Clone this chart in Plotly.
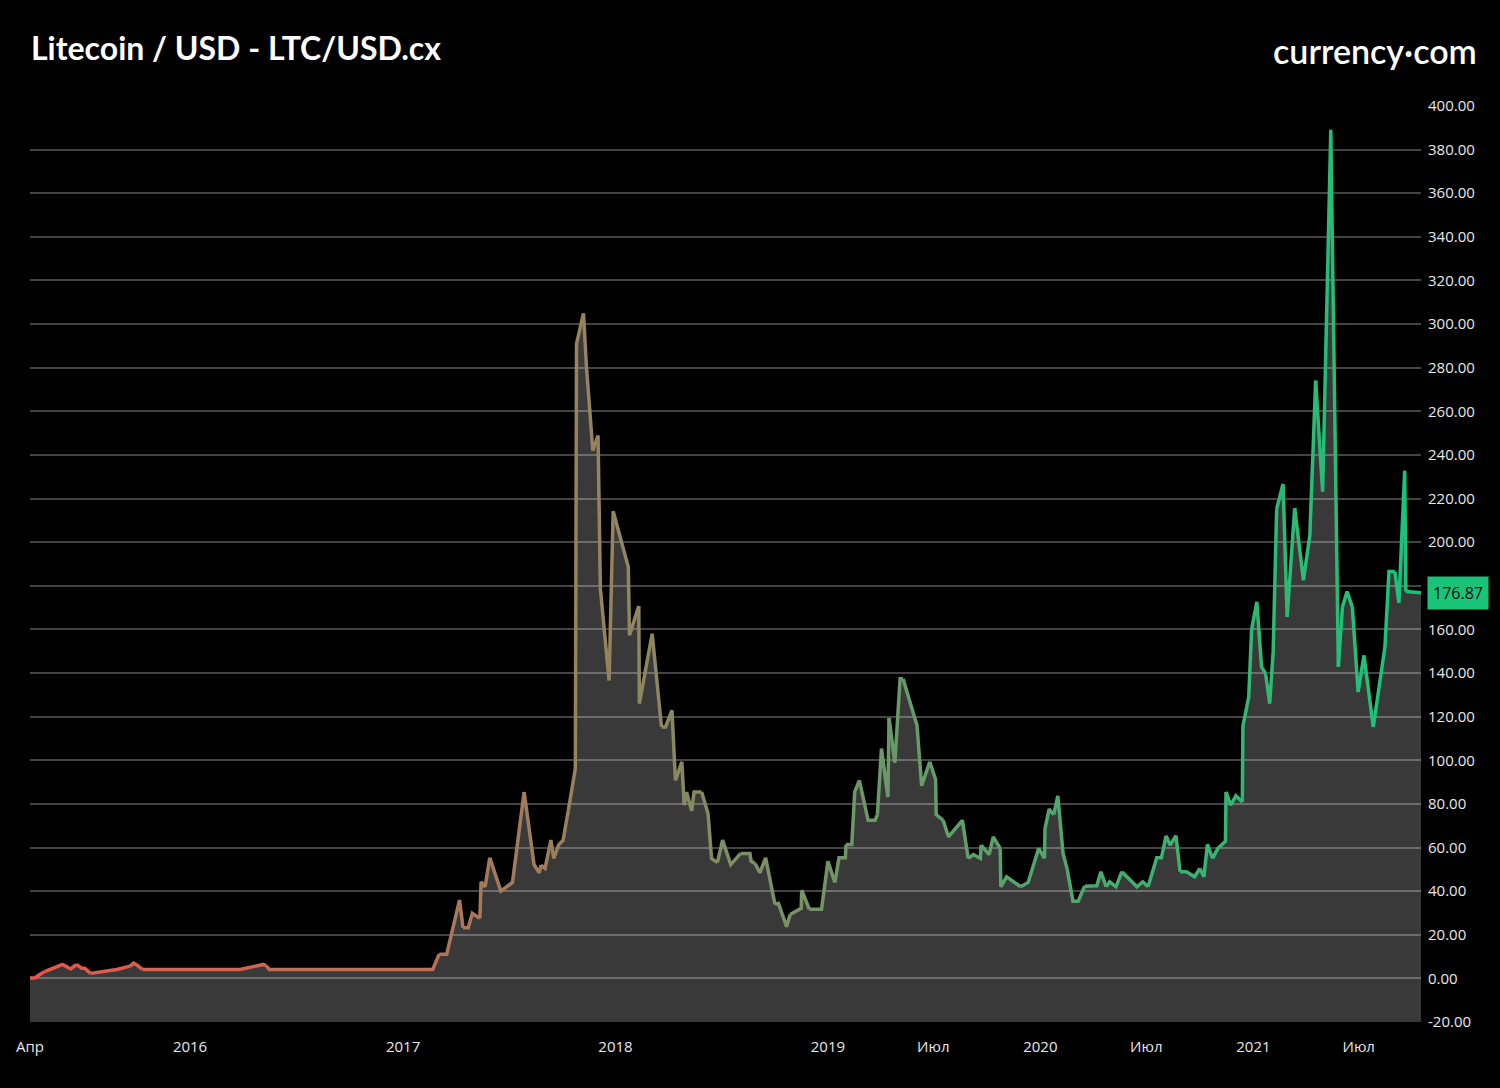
import plotly.graph_objects as go
import pandas as pd

# ---- data ----
dates = [
    "2015-04-01", "2015-04-09", "2015-04-18", "2015-04-26", "2015-05-27", "2015-06-10", "2015-06-20",
    "2015-06-29", "2015-07-04", "2015-07-14", "2015-07-24", "2015-08-28", "2015-09-20", "2015-09-26",
    "2015-10-02", "2015-10-11",
    "2016-03-27", "2016-05-06", "2016-05-11", "2016-05-16",
    "2017-02-21", "2017-03-04", "2017-03-17", "2017-04-08", "2017-04-14", "2017-04-23", "2017-04-30",
    "2017-05-13", "2017-05-15", "2017-05-22", "2017-05-30", "2017-06-18", "2017-07-08", "2017-07-28",
    "2017-08-14", "2017-08-23", "2017-08-26", "2017-09-02", "2017-09-12", "2017-09-17", "2017-09-25",
    "2017-10-03", "2017-10-12", "2017-10-24", "2017-10-26", "2017-11-07", "2017-11-12", "2017-11-23",
    "2017-12-02", "2017-12-06", "2017-12-21", "2017-12-28",
    "2018-01-23", "2018-01-25", "2018-02-10", "2018-02-11", "2018-03-05", "2018-03-21", "2018-03-28",
    "2018-04-08", "2018-04-14", "2018-04-25", "2018-04-29", "2018-05-03", "2018-05-12", "2018-05-16",
    "2018-05-29", "2018-06-09", "2018-06-15", "2018-06-25", "2018-07-04", "2018-07-18", "2018-08-04",
    "2018-08-20", "2018-08-22", "2018-08-29", "2018-09-06", "2018-09-16", "2018-10-02", "2018-10-08",
    "2018-10-22", "2018-10-28", "2018-11-16", "2018-11-17", "2018-11-30", "2018-12-21",
    "2019-01-01", "2019-01-13", "2019-01-20", "2019-01-31", "2019-02-01", "2019-02-11", "2019-02-16",
    "2019-02-24", "2019-03-11", "2019-03-23", "2019-03-27", "2019-04-03", "2019-04-14", "2019-04-16",
    "2019-04-26", "2019-05-05", "2019-05-10", "2019-06-03", "2019-06-11", "2019-06-25", "2019-07-05",
    "2019-07-06", "2019-07-18", "2019-07-27", "2019-08-20", "2019-08-30", "2019-09-08", "2019-09-20",
    "2019-09-21", "2019-10-05", "2019-10-12", "2019-10-24", "2019-10-25", "2019-11-04", "2019-11-28",
    "2019-12-11", "2019-12-29",
    "2020-01-08", "2020-01-09", "2020-01-16", "2020-01-24", "2020-01-31", "2020-02-09", "2020-02-16",
    "2020-02-26", "2020-03-06", "2020-03-17", "2020-04-07", "2020-04-14", "2020-04-23", "2020-04-29",
    "2020-05-10", "2020-05-20", "2020-06-15", "2020-06-25", "2020-07-04", "2020-07-19", "2020-07-27",
    "2020-08-04", "2020-08-11", "2020-08-21", "2020-08-28", "2020-09-08", "2020-09-22", "2020-10-01",
    "2020-10-08", "2020-10-14", "2020-10-23", "2020-11-01", "2020-11-14", "2020-11-15", "2020-11-23",
    "2020-12-02", "2020-12-13", "2020-12-14", "2020-12-24", "2020-12-29",
    "2021-01-07", "2021-01-15", "2021-01-22", "2021-01-29", "2021-02-04", "2021-02-10", "2021-02-21",
    "2021-02-28", "2021-03-13", "2021-03-28", "2021-04-08", "2021-04-18", "2021-04-30", "2021-05-14",
    "2021-05-27", "2021-06-03", "2021-06-11", "2021-06-20", "2021-06-30", "2021-07-10", "2021-07-26",
    "2021-08-15", "2021-08-22", "2021-09-01", "2021-09-08", "2021-09-18", "2021-09-20", "2021-10-16",
]

prices = [
    0.2, 0.2, 1.8, 3.1, 6.4, 4.3, 6.4, 4.6, 4.6, 2.3, 2.7, 4.1, 5.6, 7.0, 6.1, 4.1,
    4.1, 6.4, 5.8, 4.1,
    4.1, 11.1, 11.1, 35.9, 23.2, 23.2, 29.8, 27.5, 44.3, 42.0, 55.3, 40.0, 44.0, 85.5, 52.2, 48.4,
    51.9, 50.4, 63.4, 55.0, 61.1, 63.4, 77.1, 96.2, 290.9, 304.9, 280.9, 242.0, 248.9, 178.7, 136.6, 214.2,
    188.6, 157.3, 170.7, 126.0, 158.0, 115.3, 115.3, 122.9, 90.8, 99.3, 79.4, 85.5, 76.8, 85.5, 85.5,
    75.6, 55.0, 53.1, 63.4, 52.2, 57.3, 57.3, 53.7, 52.7, 48.4, 55.3, 33.9, 34.4, 23.7, 29.3, 32.1,
    40.4, 31.7, 31.7,
    53.7, 44.0, 55.3, 55.3, 61.4, 61.4, 85.5, 90.8, 72.5, 72.5, 75.1, 105.4, 83.2, 119.4, 98.9, 137.4,
    137.4, 116.0, 88.3, 99.3, 91.2, 75.1, 72.5, 64.9, 72.5, 55.0, 56.8, 55.0, 61.1, 56.8, 64.9, 59.6,
    42.0, 46.6, 42.0, 44.0, 59.6,
    55.0, 68.7, 77.6, 75.1, 83.7, 57.3, 50.1, 35.4, 35.4, 42.3, 42.5, 48.9, 42.0, 44.3, 42.0, 48.9,
    42.0, 44.3, 42.0, 55.3, 55.3, 65.4, 61.1, 65.4, 48.9, 48.9, 46.6, 50.4, 46.6, 61.4, 55.0, 59.6,
    62.9, 85.5, 79.4, 83.7, 80.9, 115.6, 129.0, 160.1,
    172.6, 142.8, 139.7, 126.0, 149.7, 215.3, 226.7, 165.7, 215.6, 182.5, 203.1, 274.1, 223.2, 389.1,
    142.8, 170.3, 177.4, 170.3, 131.3, 148.1, 115.3, 151.9, 186.6, 186.6, 172.2, 232.8, 177.4, 176.87,
]

x_tick_dates = ["2015-04-01", "2016-01-01", "2017-01-01", "2018-01-01", "2019-01-01",
                "2019-07-01", "2020-01-01", "2020-07-01", "2021-01-01", "2021-07-01"]
x_tick_labels = ["Апр", "2016", "2017", "2018", "2019", "Июл", "2020", "Июл", "2021", "Июл"]

y_tick_vals = [-20, 0, 20, 40, 60, 80, 100, 120, 140, 160, 180, 200,
               220, 240, 260, 280, 300, 320, 340, 360, 380, 400]

title_text = "Litecoin / USD - LTC/USD.cx"
brand_text = "currency·com"

assert len(dates) == len(prices)

# ---- styling ----
Y_MIN, Y_MAX = -20, 400
COLOR_START = (235, 85, 75)
COLOR_END = (25, 196, 120)
FILL = "rgba(255,255,255,0.225)"
GRID = "#444444"
TEXT = "#e8e8e8"

ts = pd.to_datetime(dates)
t0, t1 = ts[0].value, ts[-1].value
last_price = prices[-1]

# the last-price tag covers the tick label right next to it
y_tick_text = ["" if abs(v - last_price) < 10 else f"{v:.2f}" for v in y_tick_vals]


def grad(frac):
    r = [round(a + (b - a) * frac) for a, b in zip(COLOR_START, COLOR_END)]
    return f"rgb({r[0]},{r[1]},{r[2]})"


fig = go.Figure()

# baseline for the area fill (bottom of the chart)
fig.add_trace(go.Scatter(x=dates, y=[Y_MIN] * len(dates), mode="lines",
                         line=dict(width=0), hoverinfo="skip", showlegend=False))
fig.add_trace(go.Scatter(x=dates, y=prices, mode="lines", line=dict(width=0),
                         fill="tonexty", fillcolor=FILL, hoverinfo="skip", showlegend=False))

# gradient line drawn in short chunks
CHUNK = 3
n = len(dates)
i = 0
while i < n - 1:
    j = min(i + CHUNK, n - 1)
    mid = (ts[i].value + ts[j].value) / 2
    frac = (mid - t0) / (t1 - t0)
    fig.add_trace(go.Scatter(x=dates[i:j + 1], y=prices[i:j + 1], mode="lines",
                             line=dict(color=grad(frac), width=3.5),
                             hoverinfo="skip", showlegend=False))
    i = j

# last price tag
fig.add_annotation(xref="paper", x=1, xanchor="left", xshift=6, yref="y", y=last_price,
                   text=f"{last_price:.2f}", showarrow=False,
                   font=dict(family="Open Sans", size=16, color="#0d0d0d"),
                   bgcolor=grad(1.0), borderpad=5)

# title and brand
fig.add_annotation(xref="paper", yref="paper", x=0, y=1, xanchor="left", yanchor="middle",
                   xshift=-1, yshift=59, text=f"<b>{title_text}</b>", showarrow=False,
                   font=dict(family="Lato", size=32, color="white"))
fig.add_annotation(xref="paper", yref="paper", x=1, y=1, xanchor="right", yanchor="middle",
                   xshift=58, yshift=56, text=brand_text, showarrow=False,
                   font=dict(family="Lato", size=34, color="white", weight=600))

fig.update_layout(
    width=1500, height=1088,
    paper_bgcolor="black", plot_bgcolor="black",
    margin=dict(l=30, r=79, t=106, b=66),
    showlegend=False,
    hovermode=False,
    font=dict(family="Open Sans", color=TEXT, size=15),
)
fig.update_xaxes(type="date", range=[dates[0], dates[-1]], showgrid=False, zeroline=False,
                 showline=False, ticks="", tickvals=x_tick_dates, ticktext=x_tick_labels,
                 tickfont=dict(size=15, color=TEXT), ticklabelstandoff=14)
fig.update_yaxes(side="right", range=[Y_MIN, Y_MAX], tickvals=y_tick_vals, ticktext=y_tick_text,
                 showgrid=True, gridcolor=GRID, gridwidth=1.5, zeroline=False, showline=False,
                 ticks="", tickfont=dict(size=15, color=TEXT), ticklabelstandoff=6)

fig.write_html(
    "out.html",
    config={"displayModeBar": False},
    post_script="document.body.style.margin='0';document.body.style.backgroundColor='black';",
)
